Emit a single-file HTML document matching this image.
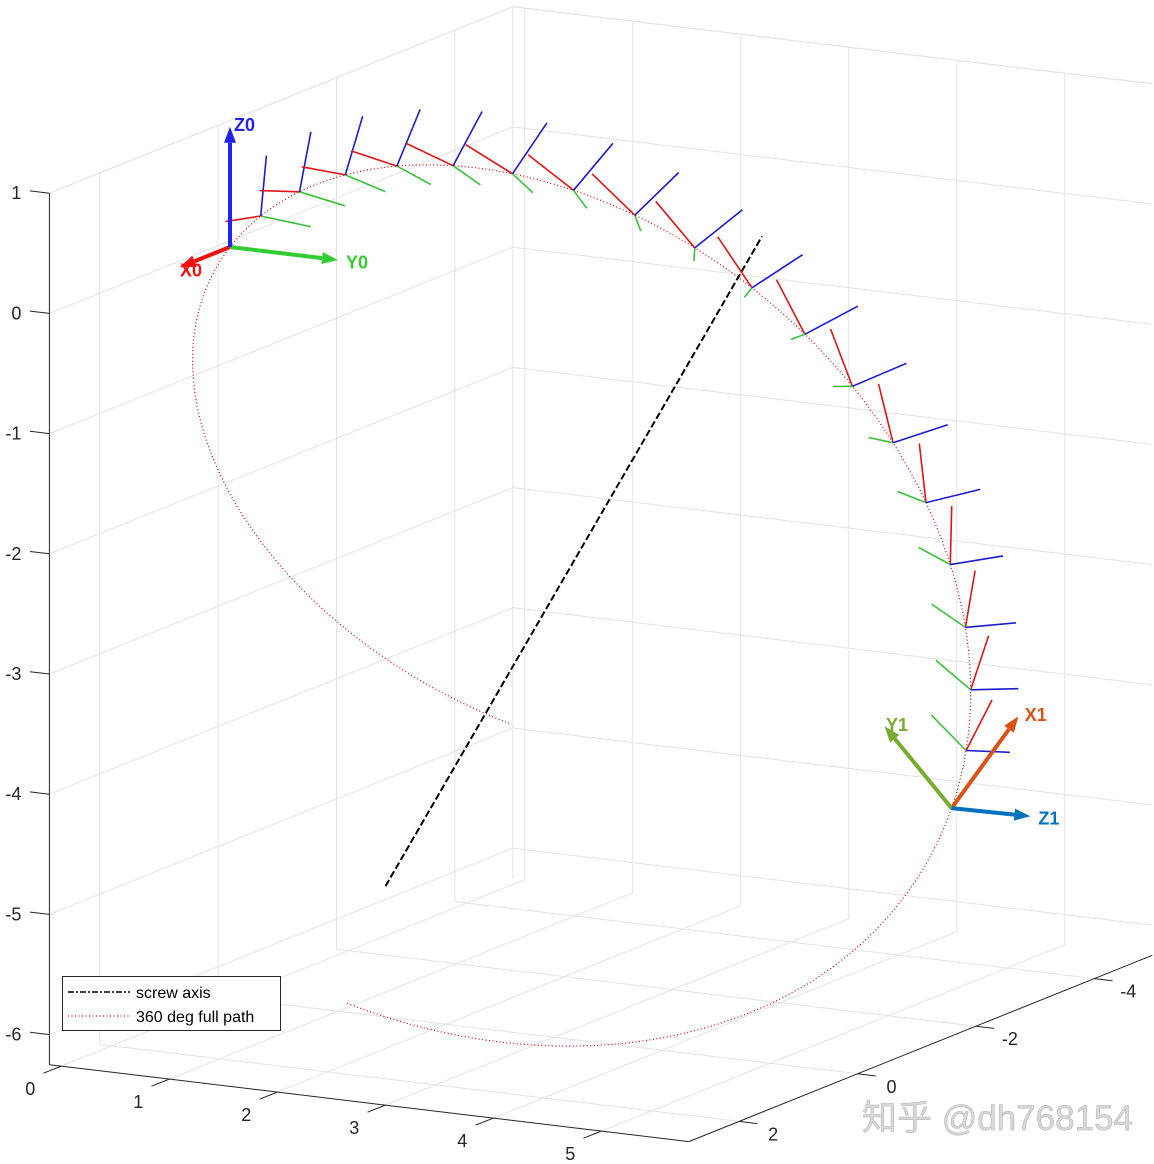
<!DOCTYPE html>
<html><head><meta charset="utf-8"><style>
html,body{margin:0;padding:0;background:#fff;}
svg{display:block;font-family:"Liberation Sans",Arial,sans-serif;}
</style></head><body>
<svg id="chart" width="1154" height="1164" viewBox="0 0 1154 1164" xmlns="http://www.w3.org/2000/svg">
<g id="grid"></g>
<g id="axes"></g>
<g id="plot"></g>
<g id="legend">
  <rect x="62.5" y="976.5" width="218" height="54" fill="#fff" stroke="#262626" stroke-width="1"/>
  <line x1="68" y1="992" x2="130" y2="992" stroke="#000" stroke-width="1.5" stroke-dasharray="6 2 2 2"/>
  <text x="136" y="998" font-size="16" fill="#000">screw axis</text>
  <line x1="68" y1="1016" x2="130" y2="1016" stroke="#e00000" stroke-width="1.2" stroke-dasharray="1 2.5"/>
  <text x="136" y="1022" font-size="16" fill="#000">360 deg full path</text>
</g>
<text x="862" y="1130" font-size="35" fill="#d8d8d8" stroke="#b0b0b0" stroke-width="0.5" font-family="'Liberation Sans','Noto Sans CJK SC',sans-serif">知乎 @dh768154</text>
</svg>
<script>
// ---- axis limits and ticks ----
const xLim = [-4.98, 2.85];
const yLim = [-0.11, 5.81];
const zLim = [-6.25, 1.0];
const xTicks = [-4, -2, 0, 2];
const yTicks = [0, 1, 2, 3, 4, 5];
const zTicks = [-6, -5, -4, -3, -2, -1, 0, 1];
// ---- screw motion data ----
const screwDir = [0.344, 0.58, 0.738];
const screwPoint = [-0.905, 3.02, -1.95];
const screwPitch = 0.61;            // translation per radian
const startPoint = [0, 0, 0];
const frameEndAngle = -166;         // degrees
const frameSteps = 19;
const pathAngleRange = [98, -262];  // degrees
const axisExtent = [-5.3, 3.6];
const bigArrowLen = [1, 1, 1];
const smallFrameLen = 0.5;

const NS = "http://www.w3.org/2000/svg";
function P(p){ return [230 - 59.2*p[0] + 108*p[1], 247 + 23.8*p[0] + 13*p[1] - 120.2*p[2]]; }
function mk(tag, attrs, parent){ const e=document.createElementNS(NS,tag); for(const k in attrs) e.setAttribute(k,attrs[k]); parent.appendChild(e); return e; }
function add(a,b){return [a[0]+b[0],a[1]+b[1],a[2]+b[2]];}
function sc(a,s){return [a[0]*s,a[1]*s,a[2]*s];}
function sub(a,b){return [a[0]-b[0],a[1]-b[1],a[2]-b[2]];}
function cross(a,b){return [a[1]*b[2]-a[2]*b[1],a[2]*b[0]-a[0]*b[2],a[0]*b[1]-a[1]*b[0]];}
function dot(a,b){return a[0]*b[0]+a[1]*b[1]+a[2]*b[2];}
const wn = (function(){const n=Math.hypot(...screwDir);return sc(screwDir,1/n);})();
function rot(v, deg){ const t=deg*Math.PI/180, c=Math.cos(t), s=Math.sin(t);
  return add(add(sc(v,c), sc(cross(wn,v),s)), sc(wn, dot(wn,v)*(1-c))); }
function pos(deg){ return add(add(screwPoint, rot(sub(startPoint,screwPoint),deg)), sc(wn, screwPitch*deg*Math.PI/180)); }
function line(g,a,b,st,name){ const A=P(a),B=P(b);
  const l=mk('line',{x1:A[0].toFixed(1),y1:A[1].toFixed(1),x2:B[0].toFixed(1),y2:B[1].toFixed(1),stroke:st.c,'stroke-width':st.w||1},g);
  if(st.d) l.setAttribute('stroke-dasharray',st.d);
  
  
  return l; }

// ---- grid ----
const grid=document.getElementById('grid');
const gs={c:'#e3e3e3',w:1};
xTicks.forEach(x=>line(grid,[x,yLim[0],zLim[0]],[x,yLim[0],zLim[1]],gs,'grid-line-x'));
zTicks.forEach(z=>line(grid,[xLim[1],yLim[0],z],[xLim[0],yLim[0],z],gs,'grid-line-z'));
yTicks.forEach(y=>line(grid,[xLim[0],y,zLim[0]],[xLim[0],y,zLim[1]],gs,'grid-line-y'));
zTicks.forEach(z=>line(grid,[xLim[0],yLim[0],z],[xLim[0],yLim[1],z],gs,'grid-line-z'));
xTicks.forEach(x=>line(grid,[x,yLim[0],zLim[0]],[x,yLim[1],zLim[0]],gs,'grid-line-floor-x'));
yTicks.forEach(y=>line(grid,[xLim[0],y,zLim[0]],[xLim[1],y,zLim[0]],gs,'grid-line-floor-y'));
line(grid,[xLim[0],yLim[0],zLim[1]],[xLim[1],yLim[0],zLim[1]],gs,'box-edge');
line(grid,[xLim[0],yLim[0],zLim[1]],[xLim[0],yLim[1],zLim[1]],gs,'box-edge');
line(grid,[xLim[0],yLim[0],zLim[0]],[xLim[0],yLim[0],zLim[1]],gs,'box-edge');

// ---- axes ----
const axes=document.getElementById('axes');
const as={c:'#262626',w:1};
line(axes,[xLim[1],yLim[0],zLim[0]],[xLim[1],yLim[0],zLim[1]],as,'z-axis');
line(axes,[xLim[1],yLim[0],zLim[0]],[xLim[1],yLim[1],zLim[0]],as,'y-axis');
line(axes,[xLim[1],yLim[1],zLim[0]],[xLim[0],yLim[1],zLim[0]],as,'x-axis');
function txt(g,x,y,s,anchor,name){ const t=mk('text',{x:x.toFixed(1),y:y.toFixed(1),'font-size':18,fill:'#262626','text-anchor':anchor},g); t.textContent=s;
  
   }
zTicks.forEach(z=>{ line(axes,[xLim[1],yLim[0],z],[xLim[1],yLim[0]-0.18,z],as,'z-tick'); const p=P([xLim[1],yLim[0],z]); txt(axes,p[0]-28,p[1]+6,String(z),'end','z-tick-label'); });
yTicks.forEach(y=>{ line(axes,[xLim[1],y,zLim[0]],[xLim[1]+0.3,y,zLim[0]],as,'y-tick'); const p=P([xLim[1],y,zLim[0]]); txt(axes,p[0]-31,p[1]+29,String(y),'middle','y-tick-label'); });
xTicks.forEach(x=>{ line(axes,[x,yLim[1],zLim[0]],[x,yLim[1]+0.17,zLim[0]],as,'x-tick'); const p=P([x,yLim[1],zLim[0]]); txt(axes,p[0]+34,p[1]+19,String(x),'middle','x-tick-label'); });

// ---- plot ----
const plot=document.getElementById('plot');
let d=''; const n=Math.round(Math.abs(pathAngleRange[1]-pathAngleRange[0]));
for(let i=0;i<=n;i++){ const a=pathAngleRange[0]+(pathAngleRange[1]-pathAngleRange[0])*i/n; const s=P(pos(a)); d+=(i?'L':'M')+s[0].toFixed(1)+' '+s[1].toFixed(1); }
const pth=mk('path',{d:d,fill:'none',stroke:'#d00000','stroke-width':1.2,'stroke-dasharray':'1 2.5'},plot);


line(plot, add(screwPoint,sc(wn,axisExtent[0])), add(screwPoint,sc(wn,axisExtent[1])), {c:'#000',w:2,d:'7 3'}, 'screw-axis');
const fc=['#e01515','#3cbf3c','#1c1cd0'];
const E=[[1,0,0],[0,1,0],[0,0,1]];
for(let k=1;k<frameSteps;k++){
  const a=frameEndAngle*k/frameSteps, o=pos(a);
  [0,1,2].forEach(i=>line(plot,o,add(o,sc(rot(E[i],a),smallFrameLen)),{c:fc[i],w:1.6},'frame-'+k+'-axis-'+'xyz'[i]));
}
function arrow(o,v,color,label,name){
  const g=mk('g',{},plot);
  
  
  const A=P(o),B=P(add(o,v)); const dx=B[0]-A[0],dy=B[1]-A[1],L=Math.hypot(dx,dy),ux=dx/L,uy=dy/L;
  const hx=B[0]-ux*16,hy=B[1]-uy*16;
  mk('line',{x1:A[0],y1:A[1],x2:hx,y2:hy,stroke:color,'stroke-width':4},g);
  mk('polygon',{points:`${B[0]},${B[1]} ${hx-uy*6},${hy+ux*6} ${hx+uy*6},${hy-ux*6}`,fill:color},g);
  const t=mk('text',{x:B[0]+ux*4+4,y:B[1]+uy*4+8,'font-size':18,'font-weight':'bold',fill:color},g); t.textContent=label;
}
const o0=pos(0);
arrow(o0,sc(E[0],bigArrowLen[0]*0.85),'#ee1111','X0','frame0-x-arrow');
arrow(o0,sc(E[1],bigArrowLen[1]),'#33cc33','Y0','frame0-y-arrow');
arrow(o0,sc(E[2],bigArrowLen[2]),'#2222ee','Z0','frame0-z-arrow');
const o1=pos(frameEndAngle);
arrow(o1,sc(rot(E[0],frameEndAngle),bigArrowLen[0]),'#d95319','X1','frame1-x-arrow');
arrow(o1,sc(rot(E[1],frameEndAngle),bigArrowLen[1]),'#77ac30','Y1','frame1-y-arrow');
arrow(o1,sc(rot(E[2],frameEndAngle),bigArrowLen[2]),'#0072bd','Z1','frame1-z-arrow');
</script>
</body></html>
